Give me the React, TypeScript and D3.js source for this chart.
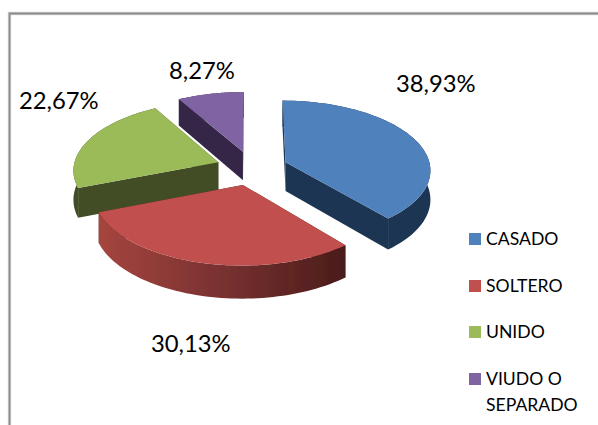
import React from "react";
import * as d3 from "d3";

const categories = ["CASADO", "SOLTERO", "UNIDO", "VIUDO O SEPARADO"];
const values = [38.93, 30.13, 22.67, 8.27];
const valueLabels = ["38,93%", "30,13%", "22,67%", "8,27%"];
const topColors = ["#4F81BD", "#C0504D", "#9BBB59", "#8064A2"];
const wallColors = ["#1F3552", "url(#redWall)", "#424D26", "#352847"];
const radialColors = ["#1F3552", "#4A1C1A", "#424D26", "#352847"];
const labelPos = [[396, 92], [151, 352], [19, 109], [169, 79]];
const legendLines = [["CASADO"], ["SOLTERO"], ["UNIDO"], ["VIUDO O", "SEPARADO"]];
const legendY = [233, 280, 326, 373];

const W = 598, H = 425;
const C = { x: 252, y: 168 }, R = 145, EXPLODE = 36, SQUASH = 0.475, PERSP = 0.1, DEPTH = 29;

function project(a: number, r: number, off: number[], drop = 0): [number, number] {
  const X = Math.sin(a) * r + off[0];
  const Z = Math.cos(a) * r + off[1];
  const f = 1 / (1 + (PERSP * Z) / R);
  return [C.x + X * f, C.y - SQUASH * Z * f + drop * f];
}

export default function App() {
  const arcs = d3.pie<number>().sort(null)(values);
  const line = d3.line();
  const order = [3, 2, 0, 1];
  return (
    <svg width={W} height={H} style={{ position: "absolute", left: 0, top: 0, background: "#fff" }}>
      <defs>
        <linearGradient id="redWall" gradientUnits="userSpaceOnUse" x1="100" x2="346" y1="0" y2="0">
          <stop offset="0" stopColor="#A5453F" />
          <stop offset="0.5" stopColor="#783130" />
          <stop offset="1" stopColor="#4A1C1A" />
        </linearGradient>
        <filter id="soft" x="-5%" y="-5%" width="110%" height="110%">
          <feGaussianBlur stdDeviation="0.4" />
        </filter>
      </defs>
      <path d="M9.5 425V13.5H598" fill="none" stroke="#D8D8D8" strokeWidth={3.4} />
      <path d="M9.5 425V13.5H598" fill="none" stroke="#8C8C8C" strokeWidth={1.8} />
      <g filter="url(#soft)">
        {order.map((i) => {
          const s = arcs[i];
          const mid = (s.startAngle + s.endAngle) / 2;
          const off = [Math.sin(mid) * EXPLODE, Math.cos(mid) * EXPLODE];
          const angles = d3.range(0, 61).map((k) => s.startAngle + ((s.endAngle - s.startAngle) * k) / 60);
          const topArc = angles.map((a) => project(a, R, off));
          const botArc = angles.map((a) => project(a, R, off, DEPTH));
          const apex = project(0, 0, off);
          const apexB = project(0, 0, off, DEPTH);
          const first = topArc[0], last = topArc[60], firstB = botArc[0], lastB = botArc[60];
          return (
            <g key={categories[i]}>
              <path d={line([apex, first, firstB, apexB])! + "Z"} fill={radialColors[i]} />
              <path d={line([apex, last, lastB, apexB])! + "Z"} fill={radialColors[i]} />
              <path d={line([...topArc, ...botArc.slice().reverse()])! + "Z"} fill={wallColors[i]} />
              <path d={line([apex, ...topArc])! + "Z"} fill={topColors[i]} />
            </g>
          );
        })}
      </g>
      <g fontFamily="Lato, Carlito, sans-serif" fill="#000">
        {valueLabels.map((t, i) => (
          <text key={t} x={labelPos[i][0]} y={labelPos[i][1]} fontSize={23.8}>{t}</text>
        ))}
        {categories.map((c, i) => (
          <g key={c}>
            <rect x={469} y={legendY[i]} width={12} height={12} fill={topColors[i]} />
            {legendLines[i].map((l, j) => (
              <text key={l} x={486} y={legendY[i] + 12 + j * 26} fontSize={17.6}>{l}</text>
            ))}
          </g>
        ))}
      </g>
    </svg>
  );
}
